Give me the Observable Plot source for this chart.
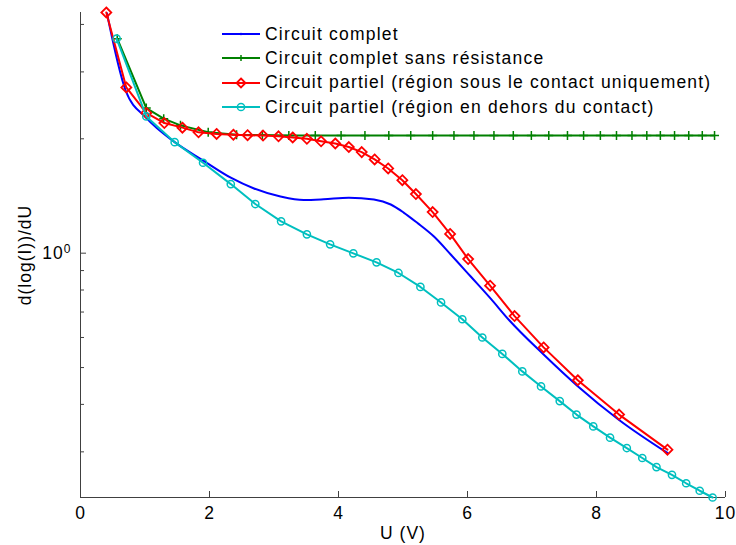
<!DOCTYPE html>
<html>
<head>
<meta charset="utf-8">
<script src="https://cdn.jsdelivr.net/npm/d3@7"></script>
<script src="https://cdn.jsdelivr.net/npm/@observablehq/plot@0.6"></script>
<style>
  body { margin: 0; background: white; }
  #wrap { position: relative; width: 736px; height: 545px; font-family: "Liberation Sans", Arial, sans-serif; }
  #legend { position: absolute; left: 222px; top: 22px; font-size: 17.5px; letter-spacing: 1.2px; color: #000; }
  #legend .row { display: flex; align-items: center; height: 24.3px; white-space: nowrap; }
  #legend svg { margin-right: 5px; }
</style>
</head>
<body>
<div id="wrap"><div id="legend"></div></div>
<script>
// ---- data ----
const seriesNames = [
  "Circuit complet",
  "Circuit complet sans résistance",
  "Circuit partiel (région sous le contact uniquement)",
  "Circuit partiel (région en dehors du contact)"
];
const seriesColors = ["#0000ff", "#008000", "#ff0000", "#00bfbf"];
const seriesSymbols = ["point", "plus", "diamond", "circle"];

const blueU = [0.41, 0.70, 1.02, 1.46, 1.91, 2.33, 2.69, 3.10, 3.46, 3.77, 4.16, 4.55, 4.81, 5.01, 5.22, 5.48, 5.74, 6.05, 6.36, 6.64, 7.18, 7.70, 8.35, 9.10];
const blueD = [4.28, 2.68, 2.27, 1.96, 1.75, 1.58, 1.48, 1.41, 1.38, 1.386, 1.40, 1.384, 1.343, 1.279, 1.202, 1.106, 0.992, 0.868, 0.759, 0.668, 0.541, 0.448, 0.364, 0.298];

const greenU = [0.57, 1.02, 1.29, 1.55, 1.98, 2.42, 2.82, 3.23, 3.64, 4.04, 4.41, 4.78, 5.12, 5.46, 5.79, 6.10, 6.41, 6.71, 6.99, 7.26, 7.55, 7.80, 8.06, 8.31, 8.55, 8.78, 8.99, 9.21, 9.43, 9.64, 9.83];
const greenD = [3.67, 2.41, 2.26, 2.17, 2.08, 2.05, 2.047, 2.04, 2.04, 2.04, 2.04, 2.04, 2.04, 2.04, 2.04, 2.04, 2.04, 2.04, 2.04, 2.04, 2.04, 2.04, 2.04, 2.04, 2.04, 2.04, 2.04, 2.04, 2.04, 2.04, 2.04];

const redU = [0.40, 0.71, 1.02, 1.30, 1.58, 1.83, 2.11, 2.37, 2.59, 2.83, 3.07, 3.29, 3.51, 3.73, 3.95, 4.16, 4.36, 4.56, 4.77, 4.99, 5.20, 5.46, 5.73, 6.01, 6.35, 6.73, 7.18, 7.71, 8.35, 9.10];
const redD = [4.30, 2.73, 2.34, 2.20, 2.14, 2.08, 2.06, 2.05, 2.044, 2.04, 2.03, 2.016, 2.00, 1.97, 1.944, 1.903, 1.845, 1.765, 1.671, 1.556, 1.431, 1.283, 1.124, 0.965, 0.821, 0.683, 0.565, 0.463, 0.376, 0.304];

const cyanU = [0.56, 1.02, 1.46, 1.90, 2.33, 2.71, 3.11, 3.51, 3.87, 4.23, 4.59, 4.93, 5.27, 5.59, 5.92, 6.23, 6.54, 6.85, 7.14, 7.43, 7.69, 7.95, 8.21, 8.47, 8.71, 8.93, 9.17, 9.39, 9.60, 9.80];
const cyanD = [3.67, 2.29, 1.96, 1.73, 1.52, 1.347, 1.213, 1.121, 1.055, 0.999, 0.946, 0.887, 0.815, 0.742, 0.670, 0.600, 0.543, 0.4885, 0.446, 0.408, 0.376, 0.350, 0.327, 0.307, 0.289, 0.2735, 0.261, 0.248, 0.237, 0.2275];

const xTicks = [0, 2, 4, 6, 8, 10];
const yMajorTicks = [1];
const yMinorTicks = [0.3, 0.4, 0.5, 0.6, 0.7, 0.8, 0.9, 2, 3, 4];
const xLabel = "U (V)";
const yLabel = "d(log(I))/dU";

// ---- build tables ----
const toRows = (U, D) => U.map((u, i) => ({u, d: D[i]}));
const blue = toRows(blueU, blueD);
const green = toRows(greenU, greenD);
const red = toRows(redU, redD);
const cyan = toRows(cyanU, cyanD);
const allD = [...blueD, ...greenD, ...redD, ...cyanD];
const yDomain = d3.extent(allD);

const axisColor = "#404040";

const chart = Plot.plot({
  width: 736,
  height: 545,
  marginLeft: 80,
  marginRight: 11,
  marginTop: 12,
  marginBottom: 48,
  style: {fontFamily: "'Liberation Sans', Arial, sans-serif", fontSize: "17.5px", letterSpacing: "1px", color: "#000", background: "white", overflow: "visible"},
  x: {domain: [0, 10]},
  y: {type: "log", domain: yDomain},
  marks: [
    Plot.ruleX([0], {stroke: axisColor}),
    Plot.ruleY([yDomain[0]], {stroke: axisColor}),
    Plot.axisX({ticks: xTicks, tickSize: -6, stroke: axisColor, label: xLabel, labelArrow: "none", labelAnchor: "center", labelOffset: 41, tickFormat: d3.format("d")}),
    Plot.axisY({ticks: yMinorTicks, tickSize: -4, stroke: axisColor, tickFormat: () => "", label: null}),
    Plot.axisY({ticks: yMajorTicks, tickSize: -6, stroke: axisColor, tickFormat: () => "10⁰", label: yLabel, labelArrow: "none", labelAnchor: "center", labelOffset: 62}),
    // Circuit complet
    Plot.line(blue, {x: "u", y: "d", stroke: seriesColors[0], strokeWidth: 2, curve: "monotone-x"}),
    // Circuit complet sans résistance
    Plot.line(green, {x: "u", y: "d", stroke: seriesColors[1], strokeWidth: 2}),
    Plot.dot(green, {x: "u", y: "d", stroke: seriesColors[1], symbol: "plus", r: 3, strokeWidth: 1.5}),
    // Circuit partiel (sous contact)
    Plot.line(red, {x: "u", y: "d", stroke: seriesColors[2], strokeWidth: 2}),
    Plot.dot(red, {x: "u", y: "d", stroke: seriesColors[2], symbol: "diamond2", r: 4.5, strokeWidth: 1.8, fill: "none"}),
    // Circuit partiel (hors contact)
    Plot.line(cyan, {x: "u", y: "d", stroke: seriesColors[3], strokeWidth: 2}),
    Plot.dot(cyan, {x: "u", y: "d", stroke: seriesColors[3], symbol: "circle", r: 3.6, strokeWidth: 1.5, fill: "none"})
  ]
});

// strip any automatic label arrows
d3.select(chart).selectAll("text").each(function() {
  const t = d3.select(this);
  if (t.selectAll("tspan").size() === 0) {
    const s = t.text();
    const c = s.replace(/\s*[→←↑↓]\s*/g, "");
    if (c !== s) t.text(c);
  }
});

// superscript exponent on the y tick label
d3.select(chart).selectAll('g[aria-label="y-axis tick label"] text').each(function() {
  const t = d3.select(this);
  if (t.text().includes("⁰")) {
    t.text("10");
    t.append("tspan").attr("dy", "-0.45em").attr("font-size", "12px").text("0");
  }
});

document.getElementById("wrap").prepend(chart);
chart.style.position = "absolute";
chart.style.left = "0";
chart.style.top = "0";

// legend overlay
const legend = d3.select("#legend");
legend.style("z-index", 2);
seriesNames.forEach((name, i) => {
  const row = legend.append("div").attr("class", "row");
  const s = row.append("svg").attr("width", 38).attr("height", 20);
  s.append("line").attr("x1", 0).attr("x2", 38).attr("y1", 10).attr("y2", 10)
    .attr("stroke", seriesColors[i]).attr("stroke-width", 2);
  const c = seriesColors[i];
  if (seriesSymbols[i] === "point") {
    s.append("circle").attr("cx", 19).attr("cy", 10).attr("r", 1.2).attr("fill", c);
  } else if (seriesSymbols[i] === "plus") {
    s.append("path").attr("d", "M19,7V13M16,10H22").attr("stroke", c).attr("stroke-width", 1.5);
  } else if (seriesSymbols[i] === "diamond") {
    s.append("path").attr("d", "M19,5.5L23.5,10L19,14.5L14.5,10Z").attr("stroke", c).attr("stroke-width", 1.8).attr("fill", "none");
  } else {
    s.append("circle").attr("cx", 19).attr("cy", 10).attr("r", 3.6).attr("stroke", c).attr("stroke-width", 1.5).attr("fill", "none");
  }
  row.append("span").text(name);
});
</script>
</body>
</html>
